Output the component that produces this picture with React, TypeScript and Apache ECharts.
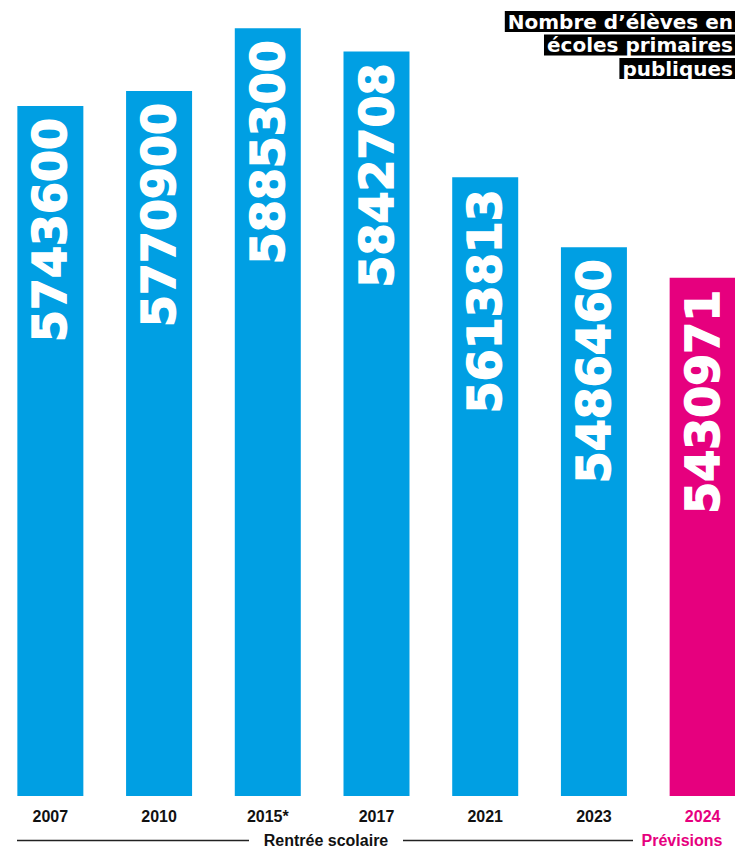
import React, { useEffect, useRef } from "react";
import * as echarts from "echarts";

const years = ["2007", "2010", "2015*", "2017", "2021", "2023", "2024"];
const pupils = [5743600, 5770900, 5885300, 5842708, 5613813, 5486460, 5430971];
const forecast = [false, false, false, false, false, false, true];
const titleLines = ["Nombre d’élèves en", "écoles primaires", "publiques"];
const axisCaption = "Rentrée scolaire";
const forecastCaption = "Prévisions";

const BLUE = "#009fe3";
const MAGENTA = "#e6007e";
const OFF = 4; // inner chart shifted left by this many px
const W = 761;

export default function App() {
  const ref = useRef<HTMLDivElement>(null);
  useEffect(() => {
    if (!ref.current) return;
    const chart = echarts.init(ref.current, null, { renderer: "svg" });
    const option: any = {
      animation: false,
      grid: { left: 0, right: 0, top: 28, bottom: 52, containLabel: false },
      xAxis: {
        type: "category",
        data: years.map((y, i) => ({
          value: y,
          textStyle: { color: forecast[i] ? MAGENTA : "#111" },
        })),
        axisLine: { show: false },
        axisTick: { show: false },
        axisLabel: {
          margin: 12,
          fontFamily: "Liberation Sans",
          fontWeight: "bold",
          fontSize: 16,
          interval: 0,
        },
      },
      yAxis: {
        type: "value",
        min: 4487000,
        max: 5885600,
        show: false,
        splitLine: { show: false },
      },
      series: [
        {
          type: "bar",
          barWidth: 66,
          data: pupils.map((v, i) => ({
            value: v,
            itemStyle: { color: forecast[i] ? MAGENTA : BLUE },
          })),
          label: {
            show: true,
            position: "insideTop",
            rotate: 90,
            align: "right",
            verticalAlign: "middle",
            distance: 12,
            color: "#fff",
            textBorderColor: "#fff",
            textBorderWidth: 1.5,
            fontFamily: "DejaVu Sans",
            fontWeight: "bold",
            fontSize: 46,
            formatter: (p: any) => String(p.value),
          },
        },
      ],
      graphic: [
        ...titleLines.map((t, i) => ({
          type: "text",
          right: W - 735 - OFF,
          top: 11 + i * 23.5,
          style: {
            text: t,
            fill: "#fff",
            backgroundColor: "#000",
            padding: [0, 2, 0, 3],
            lineHeight: 21,
            font: "bold 20px 'DejaVu Sans'",
          },
        })),
        {
          type: "line",
          shape: { x1: 17 + OFF, y1: 840.5, x2: 249 + OFF, y2: 840.5 },
          style: { stroke: "#222", lineWidth: 1.5 },
        },
        {
          type: "line",
          shape: { x1: 403 + OFF, y1: 840.5, x2: 633 + OFF, y2: 840.5 },
          style: { stroke: "#222", lineWidth: 1.5 },
        },
        {
          type: "text",
          x: 326 + OFF,
          y: 840,
          style: {
            text: axisCaption,
            fill: "#111",
            font: "bold 16px 'Liberation Sans'",
            align: "center",
            verticalAlign: "middle",
          },
        },
        {
          type: "text",
          x: 682 + OFF,
          y: 840,
          style: {
            text: forecastCaption,
            fill: MAGENTA,
            font: "bold 16px 'Liberation Sans'",
            align: "center",
            verticalAlign: "middle",
          },
        },
      ],
    };
    chart.setOption(option);
    return () => chart.dispose();
  }, []);
  return (
    <div
      style={{
        position: "fixed",
        left: 0,
        top: 0,
        width: 735,
        height: 848,
        overflow: "hidden",
        background: "#fff",
      }}
    >
      <div
        ref={ref}
        style={{ position: "absolute", left: -OFF, top: 0, width: W, height: 848 }}
      />
    </div>
  );
}
